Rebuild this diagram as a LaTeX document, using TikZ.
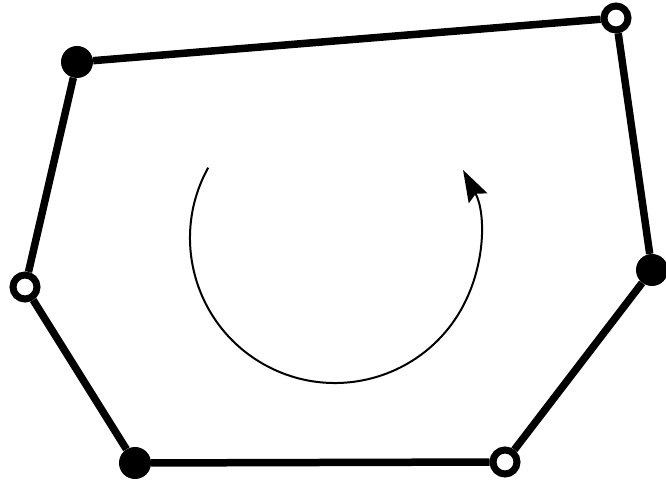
\documentclass[tikz,border=0pt]{standalone}
\usepackage{tikz}
\usetikzlibrary{arrows.meta}

\begin{document}
\begin{tikzpicture}[
    x=1pt, y=1pt,
    >=Stealth,
    % Styles
    solid dot/.style={circle, fill=black, inner sep=0pt, minimum size=32pt},
    hollow dot/.style={circle, draw=black, fill=white, line width=7pt, inner sep=0pt, minimum size=24pt},
    edge/.style={-, line width=7.5pt, draw=black},
    turn/.style={->, line width=2pt, draw=black}
]
\useasboundingbox (0,0) rectangle (666,481);

% --- Vertices ---
\node[solid dot]  (v1) at (77,419)  {};
\node[hollow dot] (v2) at (616,463) {};
\node[solid dot]  (v3) at (652,211) {};
\node[hollow dot] (v4) at (505,19)  {};
\node[solid dot]  (v5) at (135,18)  {};
\node[hollow dot] (v6) at (25,194)  {};

% --- Sides ---
\begin{scope}[on background layer/.try]
\draw[edge] (v1) -- (v2);
\draw[edge] (v2) -- (v3);
\draw[edge] (v3) -- (v4);
\draw[edge] (v4) -- (v5);
\draw[edge] (v5) -- (v6);
\draw[edge] (v6) -- (v1);
\end{scope}

% --- Orientation ---
\coordinate (mid) at (335,243);
\draw[turn, -{Stealth[length=32pt, width=21pt, inset=5pt]}] (mid) ++(151:145) arc[start angle=151, end angle=388, radius=145];

\end{tikzpicture}
\end{document}
